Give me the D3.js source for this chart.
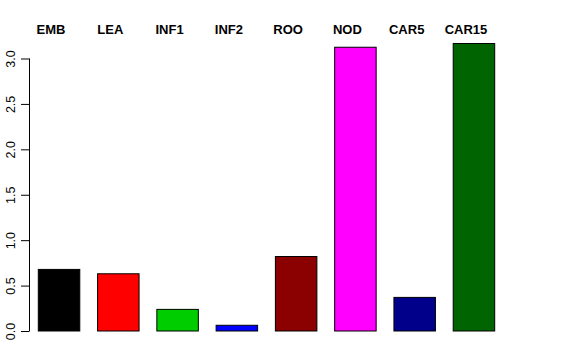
<!DOCTYPE html>
<html><head><meta charset="utf-8">
<script src="https://cdn.jsdelivr.net/npm/d3@7"></script>
<style>body{margin:0;background:#fff}svg{display:block}</style>
</head><body>
<script>
const categories = ["EMB","LEA","INF1","INF2","ROO","NOD","CAR5","CAR15"];
const values = [0.678, 0.63, 0.238, 0.063, 0.82, 3.124, 0.37, 3.165];
const colors = ["#000000","#ff0000","#00cd00","#0000ff","#8b0000","#ff00ff","#00008b","#006400"];
const yTicks = [0, 0.5, 1.0, 1.5, 2.0, 2.5, 3.0];

const W = 576, H = 360;
const svg = d3.select("body").append("svg").attr("width", W).attr("height", H);

const x = d3.scaleBand().domain(categories).range([38.3, 494.7]).paddingInner(0.3).paddingOuter(0);
const y = d3.scaleLinear().domain([0, 3]).range([331, 58.5]);

svg.selectAll("rect.bar").data(categories).enter().append("rect")
  .attr("class","bar")
  .attr("x", d => x(d))
  .attr("width", x.bandwidth())
  .attr("y", (d,i) => y(values[i]))
  .attr("height", (d,i) => y(0) - y(values[i]))
  .attr("fill", (d,i) => colors[i])
  .attr("stroke", "#000").attr("stroke-width", 1);

const axis = d3.axisLeft(y).tickValues(yTicks).tickSize(8).tickFormat(d3.format(".1f"));
const g = svg.append("g").attr("transform", "translate(29,0)").call(axis);
g.select(".domain").attr("d", `M0.5,${y(0)}V${y(3)}`).attr("stroke","#000");
g.selectAll(".tick line").attr("stroke","#000").attr("x1",0.5).attr("x2",-8);
g.selectAll(".tick text")
  .attr("font-family","Liberation Sans, Arial, sans-serif").attr("font-size","12.5px").attr("fill","#000")
  .attr("transform", "rotate(-90)")
  .attr("x", 0).attr("y", -14).attr("dy", 0)
  .attr("text-anchor","middle");

svg.selectAll("text.cat").data(categories).enter().append("text")
  .attr("class","cat")
  .attr("x", d => x(d) + x.bandwidth()/2 - 8)
  .attr("y", 33.5)
  .attr("text-anchor","middle")
  .attr("font-family","Liberation Sans, Arial, sans-serif")
  .attr("font-weight","bold").attr("font-size","13px")
  .text(d => d);
</script>
</body></html>
